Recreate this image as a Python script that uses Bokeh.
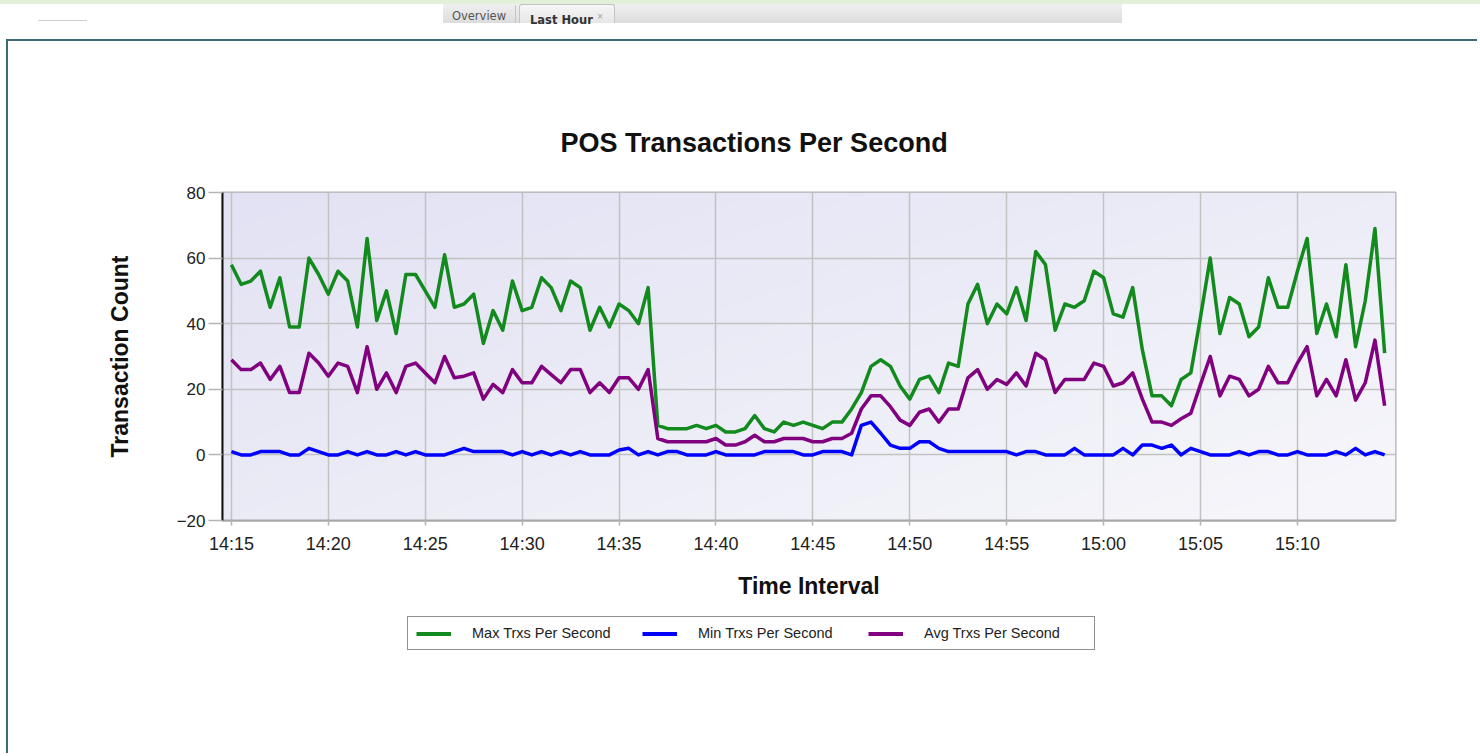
import numpy as np
from bokeh.plotting import figure
from bokeh.models import FixedTicker, Legend, LegendItem, Div, Title, Range1d
from bokeh.layouts import column
from bokeh.embed import file_html
from bokeh.resources import INLINE

# ---- data (30-second samples from 14:15:00 to 15:14:30) ----
n_points = 120
minutes = [15 + 0.5 * i for i in range(n_points)]  # minutes after 14:00

max_tps = [58, 52, 53, 56, 45, 54, 39, 39, 60, 55, 49, 56, 53, 39, 66, 41, 50, 37, 55, 55,
           50, 45, 61, 45, 46, 49, 34, 44, 38, 53, 44, 45, 54, 51, 44, 53, 51, 38, 45, 39,
           46, 44, 40, 51, 9, 8, 8, 8, 9, 8, 9, 7, 7, 8, 12, 8, 7, 10, 9, 10,
           9, 8, 10, 10, 14, 19, 27, 29, 27, 21, 17, 23, 24, 19, 28, 27, 46, 52, 40, 46,
           43, 51, 41, 62, 58, 38, 46, 45, 47, 56, 54, 43, 42, 51, 32, 18, 18, 15, 23, 25,
           42, 60, 37, 48, 46, 36, 39, 54, 45, 45, 56, 66, 37, 46, 36, 58, 33, 47, 69, 31]

min_tps = [1, 0, 0, 1, 1, 1, 0, 0, 2, 1, 0, 0, 1, 0, 1, 0, 0, 1, 0, 1,
           0, 0, 0, 1, 2, 1, 1, 1, 1, 0, 1, 0, 1, 0, 1, 0, 1, 0, 0, 0,
           1.5, 2, 0, 1, 0, 1, 1, 0, 0, 0, 1, 0, 0, 0, 0, 1, 1, 1, 1, 0,
           0, 1, 1, 1, 0, 9, 10, 6.6, 3, 2, 2, 4, 4, 2, 1, 1, 1, 1, 1, 1,
           1, 0, 1, 1, 0, 0, 0, 2, 0, 0, 0, 0, 2, 0, 3, 3, 2, 3, 0, 2,
           1, 0, 0, 0, 1, 0, 1, 1, 0, 0, 1, 0, 0, 0, 1, 0, 2, 0, 1, 0]

avg_tps = [29, 26, 26, 28, 23, 27, 19, 19, 31, 28, 24, 28, 27, 19, 33, 20, 25, 19, 27, 28,
           25, 22, 30, 23.5, 24, 25, 17, 21.5, 19, 26, 22, 22, 27, 24.5, 22, 26, 26, 19, 22, 19,
           23.5, 23.5, 20, 26, 5, 4, 4, 4, 4, 4, 5, 3, 3, 4, 6, 4, 4, 5, 5, 5,
           4, 4, 5, 5, 6.6, 14, 18, 18, 14.7, 10.6, 9, 13, 14, 10, 14, 14, 23.5, 26, 20, 23,
           21.5, 25, 21, 31, 29, 19, 23, 23, 23, 28, 27, 21, 22, 25, 17, 10, 10, 9, 11, 12.7,
           21.5, 30, 18, 24, 23, 18, 20, 27, 22, 22, 28, 33, 18, 23, 18, 29, 16.7, 22, 35, 15]

tick_minutes = [15, 20, 25, 30, 35, 40, 45, 50, 55, 60, 65, 70]
tick_labels = ["14:15", "14:20", "14:25", "14:30", "14:35", "14:40",
               "14:45", "14:50", "14:55", "15:00", "15:05", "15:10"]
y_ticks = [-20, 0, 20, 40, 60, 80]

series_names = ["Max Trxs Per Second", "Min Trxs Per Second", "Avg Trxs Per Second"]
series_colors = ["#138a1e", "#0000ff", "#800080"]
series_values = [max_tps, min_tps, avg_tps]

FONT = "Liberation Sans"
X0, X1 = 14.54, 75.06
BORDER = {"border-left": "2px solid #3d6a74"}

# ---- header (tabs) ----
header_html = """
<div style="position:relative;width:1480px;height:39px;font-family:'DejaVu Sans',Verdana,sans-serif;">
  <div style="position:absolute;left:0px;top:0px;width:1480px;height:4px;background:#e3efd9;"></div>
  <div style="position:absolute;left:38px;top:20px;width:49px;height:1px;background:#cfcfcf;"></div>
  <div style="position:absolute;left:443px;top:4px;width:679px;height:19px;background:linear-gradient(#f0f0f0,#dcdcdc);"></div>
  <div style="position:absolute;left:443px;top:5px;width:73px;height:18px;border-right:1px solid #c4c4c4;
       font-size:11.5px;color:#555;line-height:22px;text-align:center;">Overview</div>
  <div style="position:absolute;left:519px;top:4px;width:96px;height:19px;border:1px solid #c4c4c4;border-bottom:none;
       border-radius:3px 3px 0 0;background:linear-gradient(#f6f6f6,#e6e6e6);font-size:11.5px;font-weight:bold;
       color:#333;line-height:23px;text-align:left;padding-left:10px;box-sizing:border-box;">Last Hour
       <span style="font-size:8px;color:#999;vertical-align:super;font-weight:normal;">&#215;</span></div>
</div>
"""
header = Div(text=header_html, width=1480, height=39, margin=0)

# ---- main figure ----
p = figure(width=1471, height=565, x_range=(X0, X1), y_range=(-20, 80),
           output_backend="svg", toolbar_location=None,
           min_border_left=214, min_border_right=84, min_border_top=151, min_border_bottom=86,
           background_fill_color="#ececf7", border_fill_color="white")
p.margin = (0, 0, 0, 6)
p.styles = {"border-left": "2px solid #3d6a74", "border-top": "2px solid #3d6a74"}

p.title = Title(text="POS Transactions Per Second", align="left", offset=338,
                text_font=FONT, text_font_size="27px", text_font_style="bold",
                text_color="#111111", standoff=69)

# gradient background of the plot area
ny, nx = 100, 200
u = np.linspace(0, 1, nx)[None, :, None]
v = np.linspace(0, 1, ny)[:, None, None]
BL = np.array([235, 235, 246]); BR = np.array([247, 247, 251])
TL = np.array([226, 226, 244]); TR = np.array([237, 237, 248])
col = BL * (1 - u) * (1 - v) + BR * u * (1 - v) + TL * (1 - u) * v + TR * u * v
img = np.empty((ny, nx), dtype=np.uint32)
view = img.view(dtype=np.uint8).reshape((ny, nx, 4))
view[:, :, :3] = col.astype(np.uint8)
view[:, :, 3] = 255
p.image_rgba(image=[img], x=X0, y=-20, dw=X1 - X0, dh=100, level="image")

for vals, c in zip(series_values, series_colors):
    p.line(minutes, vals, line_color=c, line_width=3.5, line_join="round")

# grid / outline
for g in (p.xgrid, p.ygrid):
    g.grid_line_color = "#c2c2c2"
    g.grid_line_width = 1.5
p.outline_line_color = "#b0b0b0"
p.outline_line_width = 2

# axes
p.xaxis.ticker = FixedTicker(ticks=tick_minutes)
p.xaxis.major_label_overrides = {t: l for t, l in zip(tick_minutes, tick_labels)}
p.yaxis.ticker = FixedTicker(ticks=y_ticks)
for ax in (p.xaxis[0], p.yaxis[0]):
    ax.major_label_text_font = FONT
    ax.major_label_text_color = "#222222"
    ax.axis_label_text_font = FONT
    ax.axis_label_text_font_style = "bold"
    ax.axis_label_text_font_size = "23px"
    ax.axis_label_text_color = "#111111"
    ax.minor_tick_line_color = None
    ax.major_tick_line_color = "#b4b4b4"
    ax.major_tick_line_width = 1.5
    ax.major_tick_in = 0

p.xaxis.axis_label = "Time Interval"
p.xaxis.major_label_text_font_size = "18px"
p.xaxis.axis_line_color = "#a8a8a8"
p.xaxis.axis_line_width = 2
p.xaxis.major_tick_out = 5
p.xaxis.major_label_standoff = 8
p.xaxis.axis_label_standoff = 16

p.yaxis.axis_label = "Transaction Count"
p.yaxis.major_label_text_font_size = "17px"
p.yaxis.axis_line_color = "#111111"
p.yaxis.axis_line_width = 2
p.yaxis.major_tick_out = 14
p.yaxis.major_label_standoff = 3
p.yaxis.axis_label_standoff = 41

# ---- legend strip (separate figure so the legend is not clipped) ----
q = figure(width=1471, height=149, x_range=Range1d(1000, 1001), y_range=Range1d(0, 1),
           output_backend="svg", toolbar_location=None,
           x_axis_location=None, y_axis_location=None,
           min_border_left=0, min_border_right=0, min_border_top=0, min_border_bottom=0,
           background_fill_color="white", border_fill_color="white")
q.margin = (0, 0, 0, 6)
q.styles = dict(BORDER)
q.outline_line_color = None
q.xgrid.visible = False
q.ygrid.visible = False
legend_renderers = [q.line(minutes, vals, line_color=c, line_width=4)
                    for vals, c in zip(series_values, series_colors)]

legend = Legend(
    items=[LegendItem(label=nm, renderers=[r]) for nm, r in zip(series_names, legend_renderers)],
    orientation="horizontal", location=(185, 103),
    padding=8, margin=0, spacing=8, glyph_width=35, glyph_height=15,
    label_height=15, label_width=162, label_standoff=21,
    label_text_font=FONT, label_text_font_size="14.5px", label_text_color="#222222",
    border_line_color="#222222", border_line_width=1.2, background_fill_color="white",
    background_fill_alpha=1.0,
)
q.add_layout(legend)

layout = column(header, p, q, spacing=0)
open("out.html", "w").write(file_html(layout, INLINE))
